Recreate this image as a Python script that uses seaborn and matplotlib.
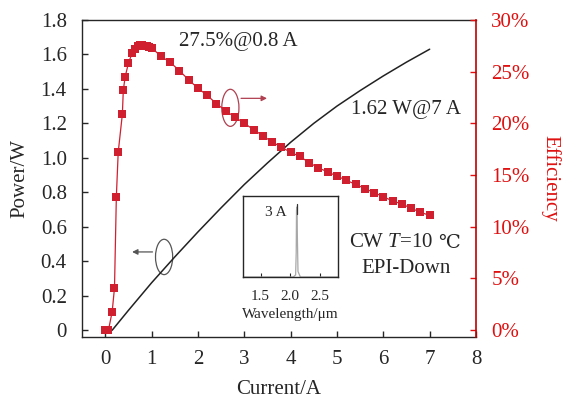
import matplotlib
matplotlib.use("Agg")
import matplotlib.pyplot as plt
from matplotlib.patches import Ellipse
from matplotlib.ticker import FuncFormatter
import seaborn as sns
import pandas as pd

# ---- data ----
power_current = [0.15, 0.5, 1.0, 1.5, 2.0, 2.5, 3.0, 3.5, 4.0, 4.5, 5.0, 5.5, 6.0, 6.5, 7.0]
power_w = [0.0, 0.115, 0.275, 0.425, 0.57, 0.71, 0.845, 0.97, 1.09, 1.20, 1.30, 1.39, 1.475, 1.555, 1.63]

eff_current = [0.0, 0.07, 0.15, 0.2, 0.24, 0.28, 0.37, 0.39, 0.43, 0.5, 0.58, 0.65, 0.7, 0.75,
               0.8, 0.85, 0.9, 0.95, 1.0, 1.2, 1.4, 1.6, 1.8, 2.0, 2.2, 2.4, 2.6, 2.8, 3.0,
               3.2, 3.4, 3.6, 3.8, 4.0, 4.2, 4.4, 4.6, 4.8, 5.0, 5.2, 5.4, 5.6, 5.8, 6.0,
               6.2, 6.4, 6.6, 6.8, 7.0]
eff_pct = [0.0, 0.0, 1.8, 4.1, 12.9, 17.2, 20.9, 23.2, 24.5, 25.8, 26.8, 27.2, 27.5, 27.6,
           27.6, 27.5, 27.5, 27.4, 27.3, 26.5, 25.9, 25.1, 24.2, 23.4, 22.7, 21.9, 21.2, 20.6, 20.0,
           19.4, 18.8, 18.2, 17.7, 17.2, 16.8, 16.2, 15.7, 15.3, 14.9, 14.5, 14.1, 13.7, 13.3, 12.9,
           12.5, 12.2, 11.8, 11.4, 11.1]

spec_wl = [1.2, 2.05, 2.09, 2.10, 2.105, 2.11, 2.115, 2.12, 2.13, 2.17, 2.8]
spec_int = [0.0, 0.0, 0.03, 0.35, 0.95, 1.0, 0.9, 0.55, 0.08, 0.0, 0.0]

x_ticks = [0, 1, 2, 3, 4, 5, 6, 7, 8]
y_ticks = [0, 0.2, 0.4, 0.6, 0.8, 1.0, 1.2, 1.4, 1.6, 1.8]
y2_ticks = [0, 5, 10, 15, 20, 25, 30]
inset_ticks = [1.5, 2.0, 2.5]

sns.set_style("ticks")
serif = ["Liberation Serif", "DejaVu Serif"]
plt.rcParams["font.family"] = serif
plt.rcParams["mathtext.fontset"] = "custom"
plt.rcParams["mathtext.rm"] = "Liberation Serif"
plt.rcParams["mathtext.it"] = "Liberation Serif:italic"

RED = "#d0202f"
AXRED = "#e01010"

fig = plt.figure(figsize=(5.62, 3.98), dpi=100)
ax = fig.add_axes([0.146, 0.153, 0.701, 0.797])
ax2 = ax.twinx()

pdf = pd.DataFrame({"I": power_current, "P": power_w})
edf = pd.DataFrame({"I": eff_current, "E": eff_pct})

sns.lineplot(data=pdf, x="I", y="P", ax=ax, color="#222222", lw=1.1)
sns.lineplot(data=edf, x="I", y="E", ax=ax2, color=RED, lw=0.9, marker="s",
             markersize=5.5, markeredgewidth=0, markerfacecolor=RED)

ax.set_xlim(-0.5, 8)
ax.set_ylim(-0.04, 1.8)
ax2.set_ylim(-0.04 / 1.8 * 30, 30)

ax.set_xticks(x_ticks)
ax.set_yticks(y_ticks)
ax.yaxis.set_major_formatter(FuncFormatter(lambda v, p: "0" if v == 0 else f"{v:.1f}"))
ax2.set_yticks(y2_ticks)
ax2.yaxis.set_major_formatter(FuncFormatter(lambda v, p: f"{v:.0f}%"))

ax.tick_params(axis="both", direction="in", length=4, labelsize=15, width=1)
ax.tick_params(axis="y", pad=11)
ax.tick_params(axis="x", pad=9)
ax2.tick_params(axis="y", direction="in", length=4, labelsize=15, colors=AXRED, width=1, pad=11)

ax.set_xlabel("Current/A", fontsize=15, labelpad=8)
ax.set_ylabel("Power/W", fontsize=15, labelpad=8)
ax2.set_ylabel("Efficiency", fontsize=15, color=AXRED, rotation=270, labelpad=22)

for s in ax.spines.values():
    s.set_linewidth(1.0)
for s in ["left", "top", "bottom"]:
    ax2.spines[s].set_visible(False)
ax2.spines["right"].set_color("#c00000")
ax2.spines["right"].set_linewidth(1.2)
ax.spines["right"].set_visible(False)

# annotations
ax.text(2.87, 1.676, "27.5%@0.8 A", fontsize=15, ha="center", va="center")
ax.text(6.5, 1.28, "1.62 W@7 A", fontsize=15, ha="center", va="center")
ax.text(7.07, 0.506, "CW $\\mathit{T}$=10", fontsize=15, ha="right", va="center")
ax.text(7.19, 0.506, "\u2103", fontsize=14, ha="left", va="center", family=["DejaVu Serif"])
ax.text(6.48, 0.36, "EPI-Down", fontsize=15, ha="center", va="center")

ax.add_patch(Ellipse((2.7, 1.29), 0.37, 0.215, fill=False, ec="#b04050", lw=0.9))
ax.annotate("", xy=(3.55, 1.345), xytext=(2.87, 1.345),
            arrowprops=dict(arrowstyle="-|>", color="#b04050", lw=0.9, mutation_scale=8))
ax.add_patch(Ellipse((1.27, 0.425), 0.37, 0.205, fill=False, ec="#555555", lw=0.9))
ax.annotate("", xy=(0.52, 0.454), xytext=(1.08, 0.454),
            arrowprops=dict(arrowstyle="-|>", color="#555555", lw=0.9, mutation_scale=8))

# inset spectrum
ins = fig.add_axes([0.432, 0.304, 0.169, 0.204])
sdf = pd.DataFrame({"wl": spec_wl, "I": spec_int})
sns.lineplot(data=sdf, x="wl", y="I", ax=ins, color="#a8a8a8", lw=0.9)
ins.plot([2.11, 2.11], [0.9, 1.05], color="#333333", lw=0.9)
ins.set_xlim(1.2, 2.8)
ins.set_ylim(0, 1.16)
ins.set_xticks(inset_ticks)
ins.set_yticks([])
ins.set_ylabel("")
ins.set_xlabel("Wavelength/\u03bcm", fontsize=11, labelpad=4)
ins.tick_params(axis="x", direction="in", length=3, labelsize=11, pad=9)
for s in ins.spines.values():
    s.set_linewidth(1.0)
ins.text(0.35, 0.8, "3 A", transform=ins.transAxes, fontsize=11, ha="center", va="center")

fig.savefig("out.png", dpi=100)
